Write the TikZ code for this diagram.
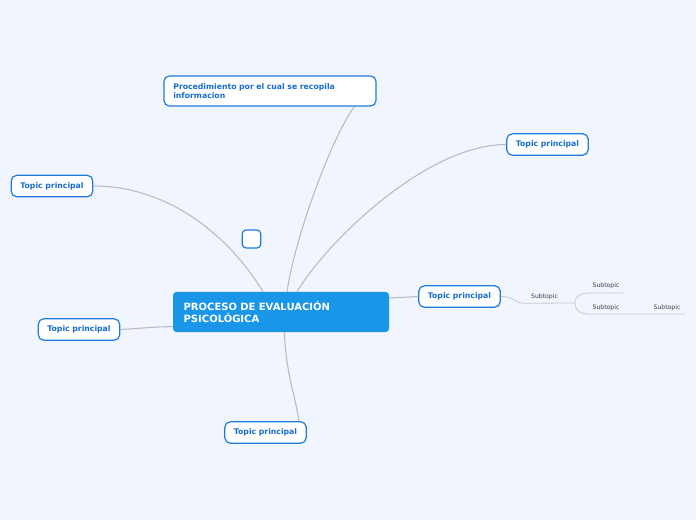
\documentclass[tikz,border=0pt]{standalone}
\usepackage{fontspec}
\setmainfont{DejaVu Sans}
\usepackage{tikz}
\usepackage{xcolor}
\usetikzlibrary{positioning, calc}
\definecolor{cBack}{RGB}{241,245,253}
\definecolor{cMain}{RGB}{26,150,232}
\definecolor{cEdge}{RGB}{32,122,222}
\definecolor{cLabel}{RGB}{22,108,208}
\definecolor{cLine}{RGB}{184,187,196}
\definecolor{cSub}{RGB}{60,62,68}
\tikzset{
	central/.style ={rectangle, rounded corners=2.5pt, fill=cMain, text=white, font=\fontsize{7.5}{9}\selectfont\bfseries, align=left, text width=146pt, inner xsep=8pt, inner ysep=0pt, minimum width=162pt, minimum height=30pt},
	note/.style    ={rectangle, rounded corners=4pt, draw=cEdge, line width=0.9pt, fill=white, text=cLabel, font=\fontsize{5.8}{6.8}\selectfont\bfseries, align=left, text width=145pt, inner xsep=7pt, inner ysep=0pt, minimum width=159pt, minimum height=22.5pt},
	topic/.style   ={rectangle, rounded corners=4pt, draw=cEdge, line width=0.9pt, fill=white, text=cLabel, font=\fontsize{5.8}{7}\selectfont\bfseries, inner sep=0pt, minimum width=61pt, minimum height=16pt},
	blank/.style   ={rectangle, rounded corners=3pt, draw=cEdge, line width=0.9pt, fill=white, minimum width=14pt, minimum height=13.5pt, inner sep=0pt},
	subtopic/.style={text=cSub, font=\fontsize{4.6}{5}\selectfont, inner sep=0pt},
	branch/.style  ={draw=cLine, line width=0.8pt},
	twig/.style    ={draw=cLine!80, line width=0.6pt},
}
\begin{document}
\begin{tikzpicture}[x=0.75pt, y=-0.75pt]
	\fill[cBack] (0,0) rectangle (696,520);
	\useasboundingbox (0,0) rectangle (696,520);
	% ---- nodes ----
	\node[central] (proceso) at (281,312) {PROCESO DE EVALUACI\'ON\\PSICOL\'OGICA};
	\node[note] (proc) at (270,91) {Procedimiento por el cual se recopila\\informacion};
	\node[topic] (tr) at (547.5,144.5) {Topic principal};
	\node[topic] (tl) at (52,186) {Topic principal};
	\node[topic] (rm) at (459.5,296.5) {Topic principal};
	\node[topic] (lb) at (79,329.5) {Topic principal};
	\node[topic] (bt) at (265.5,432.5) {Topic principal};
	\node[blank] (box) at (251.5,239) {};
	% ---- subtopics ----
	\node[subtopic] (s1) at (544.5,296.5) {Subtopic};
	\node[subtopic] (s2) at (606,286) {Subtopic};
	\node[subtopic] (s3) at (606,307.5) {Subtopic};
	\node[subtopic] (s4) at (667,307.5) {Subtopic};
	\coordinate (j1) at (575,303);
	\coordinate (e2) at (624,293);
	\coordinate (e4) at (685,314);
	% ---- branches ----
	\draw[branch] ([xshift=4.5pt]proceso.north) .. controls +(9,-60) and +(-20,25) .. ([xshift=-16.5pt]proc.south east);
	\draw[branch] ([xshift=12pt]proceso.north) .. controls +(30,-50) and +(-80,0) .. (tr.west);
	\draw[branch] ([xshift=-13.5pt]proceso.north) .. controls +(-30,-50) and +(80,0) .. (tl.east);
	\draw[branch] ([yshift=-11pt]proceso.west) .. controls +(-20,0) and +(20,-1) .. (lb.east);
	\draw[branch] ([xshift=2.5pt]proceso.south) .. controls +(2,45) and +(-3,-25) .. ([xshift=25pt]bt.north);
	\draw[branch] ([yshift=10.5pt]proceso.east) -- (rm.west);
	% ---- twigs ----
	\draw[twig] (rm.east) .. controls +(15,0) and +(-12,0) .. ($(s1.south west)+(-6,3.5)$) -- (j1);
	\draw[twig] (j1) .. controls +(0,-8) and +(-8,0) .. ($(j1 |- e2)+(15,0)$) -- (e2);
	\draw[twig] (j1) .. controls +(0,9) and +(-8,0) .. ($(j1 |- e4)+(15,0)$) -- (e4);
\end{tikzpicture}
\end{document}
